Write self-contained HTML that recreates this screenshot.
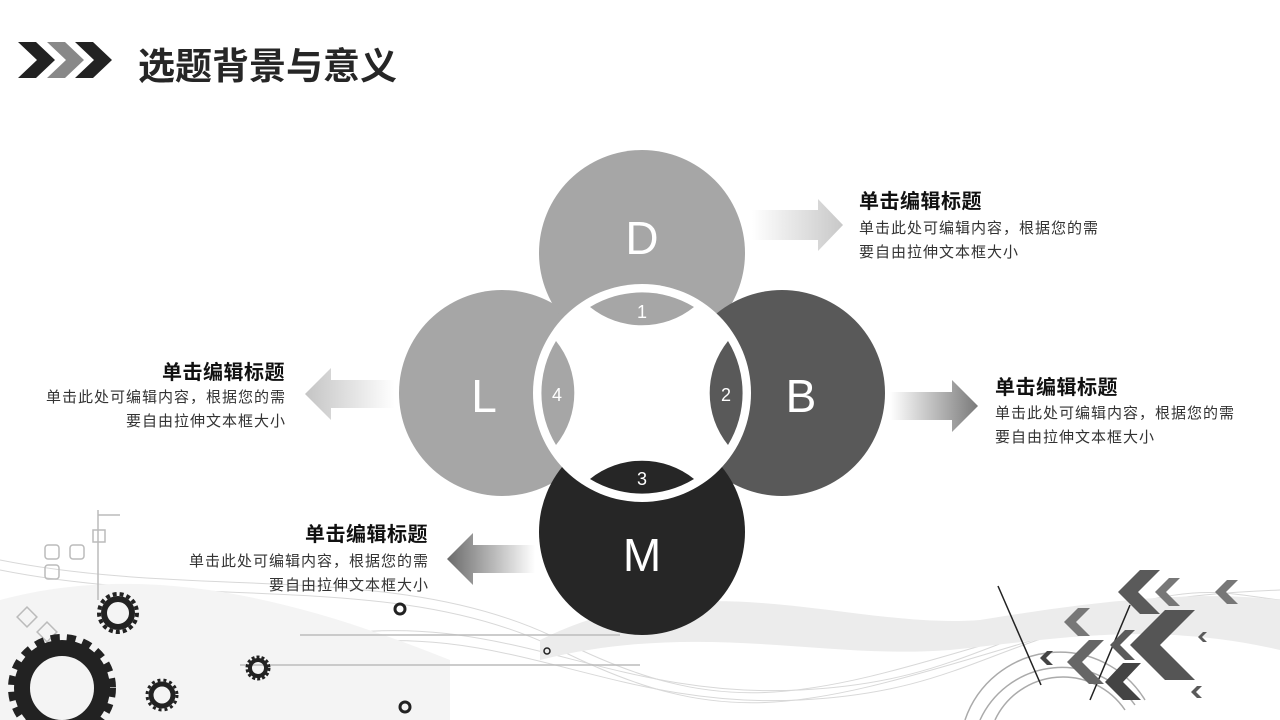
<!DOCTYPE html>
<html><head><meta charset="utf-8"><style>
body{margin:0;width:1280px;height:720px;overflow:hidden;background:#fff;font-family:"Liberation Sans","Noto Sans CJK SC",sans-serif;position:relative}
.t{position:absolute;font-weight:bold;font-size:20px;letter-spacing:0.5px;color:#111;white-space:nowrap}
.p{position:absolute;font-size:15px;letter-spacing:1px;color:#333;line-height:23.5px;white-space:nowrap}
.r{text-align:right}
</style></head><body>
<svg width="1280" height="720" style="position:absolute;left:0;top:0">
<defs>
<linearGradient id="gr" x1="0" x2="1"><stop offset="0" stop-color="#fff"/><stop offset="1" stop-color="#c8c8c8"/></linearGradient>
<linearGradient id="gb" x1="0" x2="1"><stop offset="0" stop-color="#fff"/><stop offset="1" stop-color="#7a7a7a"/></linearGradient>
<linearGradient id="gl" x1="1" x2="0"><stop offset="0" stop-color="#fff"/><stop offset="1" stop-color="#c4c4c4"/></linearGradient>
<linearGradient id="gm" x1="1" x2="0"><stop offset="0" stop-color="#fff"/><stop offset="1" stop-color="#6a6a6a"/></linearGradient>
</defs>
<g fill="none" stroke="#d8d8d8" stroke-width="1">
<path d="M0,560 C200,600 400,560 560,640 S800,700 1000,640 S1200,590 1280,600"/>
<path d="M0,570 C200,610 400,570 560,650 S800,710 1000,650 S1200,600 1280,610"/>
<path d="M300,640 C500,600 600,700 800,690 S1000,600 1280,590"/>
<path d="M300,650 C500,610 600,710 800,700 S1000,610 1280,600"/>
</g>
<path d="M540,640 C700,560 850,630 980,620 C1100,600 1200,590 1280,600 L1280,650 C1150,620 1050,640 950,650 C820,660 700,620 540,660Z" fill="#ececec"/>
<path d="M0,600 C150,560 300,600 450,660 L450,720 L0,720Z" fill="#f4f4f4"/>
<g stroke="#bbb" stroke-width="1.5" fill="none">
<line x1="300" y1="635" x2="620" y2="635"/><line x1="240" y1="665" x2="640" y2="665"/>
<rect x="45" y="545" width="14" height="14" rx="3"/><rect x="70" y="545" width="14" height="14" rx="3"/><rect x="45" y="565" width="14" height="14" rx="3"/><rect x="93" y="530" width="12" height="12"/>
<line x1="98" y1="510" x2="98" y2="600"/><line x1="98" y1="515" x2="120" y2="515"/>
<rect x="20" y="610" width="14" height="14" transform="rotate(45 27 617)"/><rect x="40" y="625" width="14" height="14" transform="rotate(45 47 632)"/>
</g>
<g fill="none" stroke="#222">
<circle cx="62" cy="688" r="40" stroke-width="16"/><circle cx="62" cy="688" r="50" stroke-width="8" stroke-dasharray="9 7"/>
<circle cx="118" cy="613" r="14" stroke-width="6"/><circle cx="118" cy="613" r="19" stroke-width="4" stroke-dasharray="4 3"/>
<circle cx="162" cy="695" r="11" stroke-width="5"/><circle cx="162" cy="695" r="15" stroke-width="3" stroke-dasharray="3 3"/>
<circle cx="258" cy="668" r="8" stroke-width="4"/><circle cx="258" cy="668" r="11" stroke-width="3" stroke-dasharray="3 2"/>
<circle cx="400" cy="609" r="5" stroke-width="3"/><circle cx="405" cy="707" r="5" stroke-width="3"/>
<circle cx="547" cy="651" r="3" stroke-width="1.5"/>
</g>
<g fill="none" stroke="#aaa" stroke-width="1.5">
<path d="M965,720 A100,100 0 0 1 1145,700"/><path d="M980,720 A90,90 0 0 1 1135,705"/><path d="M995,720 A75,75 0 0 1 1125,710"/>
</g>
<g stroke="#222" stroke-width="1.5"><line x1="998" y1="586" x2="1041" y2="685"/><line x1="1130" y1="605" x2="1090" y2="700"/></g>
<g fill="#5a5a5a">
<polygon points="1140,570 1160,570 1138,592 1160,614 1140,614 1118,592"/>
<polygon points="1169,578 1180,578 1166,592 1180,606 1169,606 1155,592" fill="#777"/>
<polygon points="1227,580 1238,580 1226,592 1238,604 1227,604 1215,592" fill="#777"/>
<polygon points="1165,610 1195,610 1160,645 1195,680 1165,680 1130,645" fill="#555"/>
<polygon points="1078,608 1090,608 1076,622 1090,636 1078,636 1064,622" fill="#777"/>
<polygon points="1125,630 1135,630 1120,645 1135,660 1125,660 1110,645"/>
<polygon points="1089,640 1104,640 1082,662 1104,684 1089,684 1067,662" fill="#666"/>
<polygon points="1123,663 1141,663 1123,682 1141,700 1123,700 1105,682" fill="#444"/>
<polygon points="1047,651 1053,651 1046,658 1053,665 1047,665 1040,658" fill="#444"/>
<polygon points="1203,632 1207,632 1202,637 1207,642 1203,642 1198,637"/>
<polygon points="1197,686 1202,686 1196,692 1202,698 1197,698 1191,692"/>
</g>
<polygon points="18,42 36,42 55,60 36,78 18,78 37,60" fill="#222"/>
<polygon points="47,42 65,42 84,60 65,78 47,78 66,60" fill="#888"/>
<polygon points="75,42 93,42 112,60 93,78 75,78 94,60" fill="#222"/>
<polygon points="752,210 818,210 818,199 843,225 818,251 818,240 752,240" fill="url(#gr)"/>
<polygon points="890,392 952,392 952,380 978,406 952,432 952,420 890,420" fill="url(#gb)"/>
<polygon points="395,380 331,380 331,368 305,394 331,420 331,408 395,408" fill="url(#gl)"/>
<polygon points="535,545 473,545 473,533 447,559 473,585 473,573 535,573" fill="url(#gm)"/>
<circle cx="502" cy="393" r="103" fill="#a6a6a6"/>
<circle cx="642" cy="253" r="103" fill="#a6a6a6"/>
<circle cx="782" cy="393" r="103" fill="#595959"/>
<circle cx="642" cy="532" r="103" fill="#262626"/>
<circle cx="642" cy="393" r="109" fill="#fff"/>
<g>
<path d="M590,307 A100,100 0 0 1 694,307 A83,83 0 0 1 590,307Z" fill="#a6a6a6"/>
<path d="M590,307 A100,100 0 0 1 694,307 A83,83 0 0 1 590,307Z" fill="#595959" transform="rotate(90 642 393)"/>
<path d="M590,307 A100,100 0 0 1 694,307 A83,83 0 0 1 590,307Z" fill="#262626" transform="rotate(180 642 393)"/>
<path d="M590,307 A100,100 0 0 1 694,307 A83,83 0 0 1 590,307Z" fill="#a6a6a6" transform="rotate(270 642 393)"/>
</g>
<g fill="#fff" font-family="Liberation Sans,sans-serif" text-anchor="middle">
<text x="642" y="254" font-size="46">D</text>
<text x="484" y="412" font-size="46">L</text>
<text x="801" y="412" font-size="46">B</text>
<text x="642" y="571" font-size="46">M</text>
<text x="642" y="318" font-size="18">1</text>
<text x="726" y="401" font-size="18">2</text>
<text x="642" y="485" font-size="18">3</text>
<text x="557" y="401" font-size="18">4</text>
</g>
</svg>
<div class="t" style="left:138px;top:36px;font-size:37px;letter-spacing:0;color:#262626">选题背景与意义</div>
<div class="t" style="left:859px;top:185px">单击编辑标题</div>
<div class="p" style="left:859px;top:217px">单击此处可编辑内容，根据您的需<br>要自由拉伸文本框大小</div>
<div class="t" style="left:995px;top:371px">单击编辑标题</div>
<div class="p" style="left:995px;top:402px">单击此处可编辑内容，根据您的需<br>要自由拉伸文本框大小</div>
<div class="t r" style="right:995px;top:356px">单击编辑标题</div>
<div class="p r" style="right:994px;top:386px">单击此处可编辑内容，根据您的需<br>要自由拉伸文本框大小</div>
<div class="t r" style="right:852px;top:518px">单击编辑标题</div>
<div class="p r" style="right:851px;top:550px">单击此处可编辑内容，根据您的需<br>要自由拉伸文本框大小</div>
</body></html>
